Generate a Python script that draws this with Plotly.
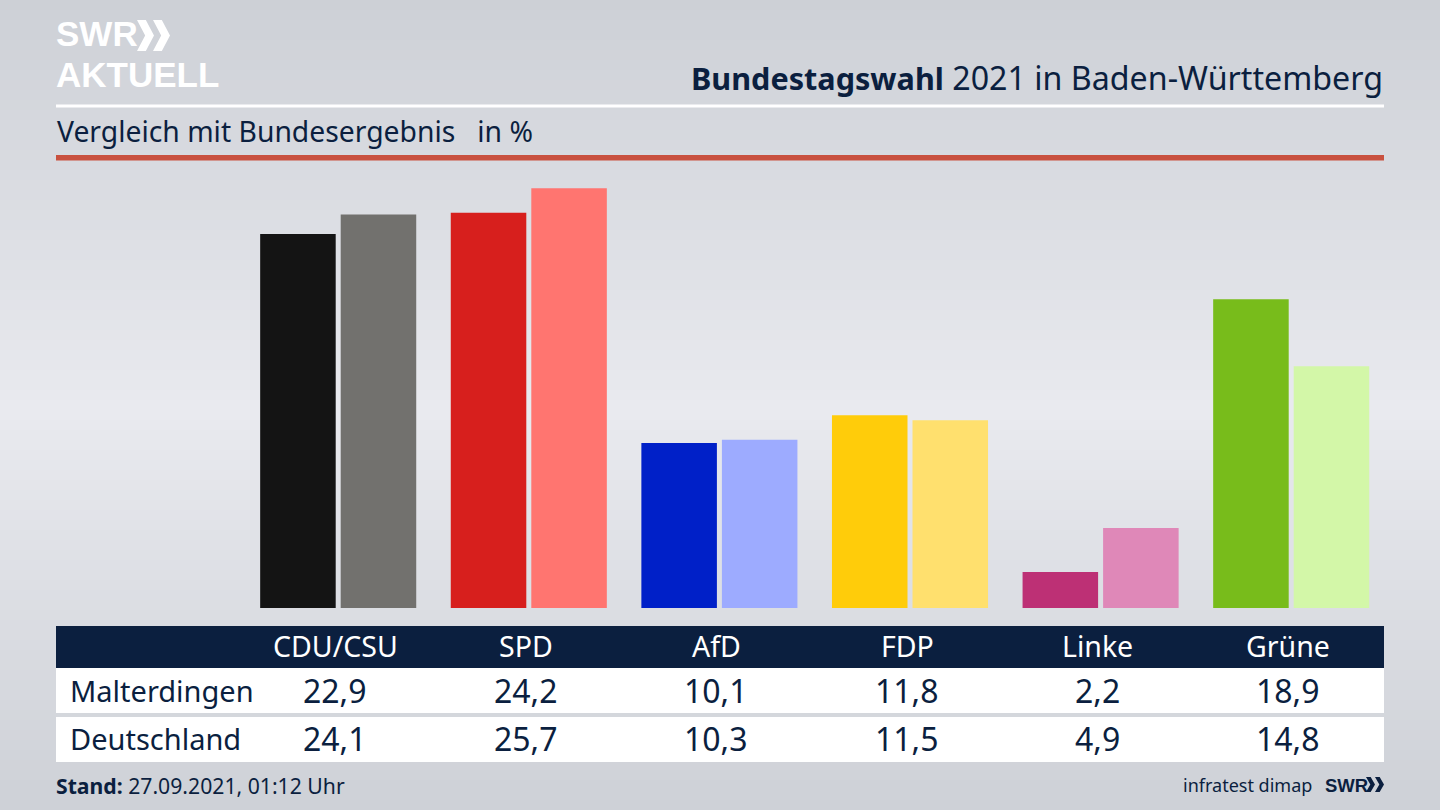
import plotly.graph_objects as go

parties = ["CDU/CSU", "SPD", "AfD", "FDP", "Linke", "Grüne"]
malterdingen = [22.9, 24.2, 10.1, 11.8, 2.2, 18.9]
deutschland = [24.1, 25.7, 10.3, 11.5, 4.9, 14.8]
colors_local = ["#141414", "#d71f1d", "#0020c8", "#ffcc0a", "#bd3075", "#78bc1b"]
colors_federal = ["#72716e", "#ff7570", "#9dabff", "#ffe06e", "#df88b8", "#d3f7a8"]
row_names = ["Malterdingen", "Deutschland"]
title_bold = "Bundestagswahl"
title_rest = " 2021 in Baden-Württemberg"
subtitle = "Vergleich mit Bundesergebnis   in %"
stand = "<b>Stand:</b> 27.09.2021, 01:12 Uhr"
source = "infratest dimap"

W, H = 1440, 810
NAVY = "#0b1f3f"
FONT = "Noto Sans"
LOGO = "Liberation Sans"
SCALE = 16.33
px = lambda v: v / W
py = lambda v: 1 - v / H
fmt = lambda v: f"{v:.1f}".replace(".", ",")


def rect(x0, y0, x1, y1, color, layer="below"):
    return dict(type="rect", xref="paper", yref="paper", x0=px(x0), x1=px(x1), y0=py(y0), y1=py(y1),
                fillcolor=color, line_width=0, layer=layer)


def band_color(t):
    # vertical page gradient: grey at the edges, light in the middle
    top, mid = (205, 208, 214), (233, 234, 239)
    d = min(abs(t - 410) / 410, 1)
    return "rgb(" + ",".join(str(round(m + (a - m) * d)) for a, m in zip(top, mid)) + ")"


def chevron(x, y, w, h, color):
    # one logo chevron, pixel placed
    s = w * 0.52
    pts = [(x, y), (x + s, y), (x + w, y + h / 2), (x + s, y + h), (x, y + h), (x + w - s, y + h / 2)]
    path = "M " + " L ".join(f"{px(a):.5f},{py(b):.5f}" for a, b in pts) + " Z"
    return dict(type="path", xref="paper", yref="paper", path=path, fillcolor=color, line_width=0, layer="above")


shapes = [rect(0, t, W, t + 11, band_color(t + 5)) for t in range(0, H, 10)]
shapes += [
    rect(56, 104.5, 1384, 107.5, "#ffffff"),
    rect(56, 155, 1384, 160.5, "#c9513f"),
    rect(56, 626, 1384, 668, NAVY),
    rect(56, 668, 1384, 713, "#ffffff"),
    rect(56, 717, 1384, 762, "#ffffff"),
    chevron(137, 20, 17, 31, "#ffffff"),
    chevron(153, 20, 17, 31, "#ffffff"),
    chevron(1366, 777, 9, 15, NAVY),
    chevron(1375, 777, 9, 15, NAVY),
]


def text(x, y, s, size, color=NAVY, anchor="left", family=FONT):
    return dict(xref="paper", yref="paper", x=px(x), y=py(y), text=s, showarrow=False, xanchor=anchor,
                yanchor="middle", font=dict(family=family, size=size, color=color))


title_html = (f'<span style="font-size:30.6px"><b>{title_bold}</b></span>'
              f'<span style="font-size:32.2px">{title_rest}</span>')
annotations = [
    text(1385, 77, title_html, 32.2, anchor="right"),
    text(55, 131.5, subtitle, 28.3),
    text(54, 33.5, "<b>SWR</b>", 35, "#ffffff", family=LOGO),
    text(54, 74.5, "<b>AKTUELL</b>", 35, "#ffffff", family=LOGO),
    text(67.5, 690.5, row_names[0], 29),
    text(67.5, 738.5, row_names[1], 29),
    text(54, 785, stand, 21.2),
    text(1314, 784.5, source, 18, anchor="right"),
    text(1322.5, 785, "<b>SWR</b>", 18.5, family=LOGO),
]
for party, a, b in zip(parties, malterdingen, deutschland):
    for label, y, size, color in [(party, 646, 28.5, "#ffffff"), (fmt(a), 690.5, 32, NAVY), (fmt(b), 738.5, 32, NAVY)]:
        annotations.append(dict(xref="x", yref="paper", x=party, xshift=-3, y=py(y), text=label, showarrow=False,
                                xanchor="center", yanchor="middle", font=dict(family=FONT, size=size, color=color)))

fig = go.Figure([
    go.Bar(name=row_names[0], x=parties, y=malterdingen, marker=dict(color=colors_local, line_width=0)),
    go.Bar(name=row_names[1], x=parties, y=deutschland, marker=dict(color=colors_federal, line_width=0)),
])
fig.update_layout(
    width=W, height=H, margin=dict(l=0, r=0, t=0, b=0), showlegend=False,
    paper_bgcolor="#d8dae0", plot_bgcolor="rgba(0,0,0,0)",
    barmode="group", bargap=0.155, bargroupgap=0.062,
    shapes=shapes, annotations=annotations,
    xaxis=dict(domain=[px(242.9), px(1386.5)], range=[-0.5, 5.5], visible=False, type="category"),
    yaxis=dict(domain=[py(608), py(170)], range=[0, 438 / SCALE], visible=False),
)
fig.write_html("out.html", config=dict(displayModeBar=False),
               post_script="document.body.style.margin='0';document.body.style.overflow='hidden';")
